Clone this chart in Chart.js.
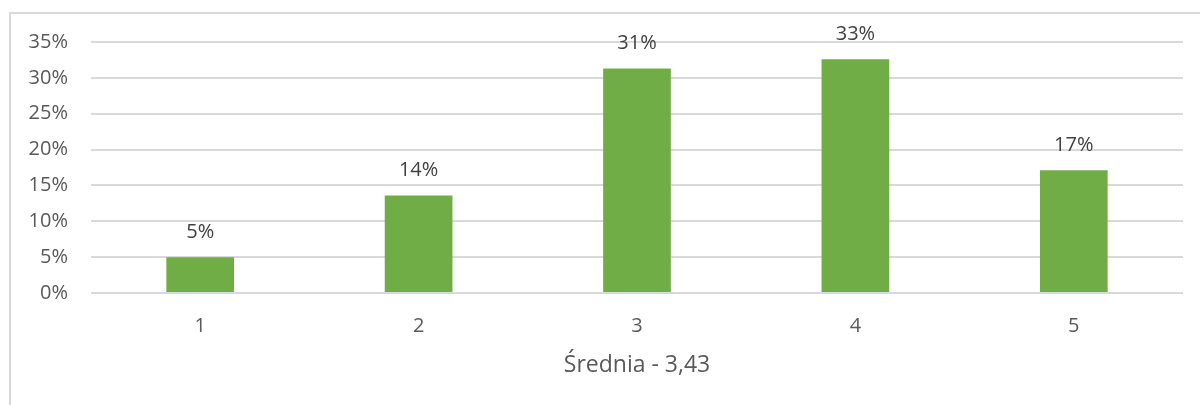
<!DOCTYPE html>
<html>
<head>
<meta charset="utf-8">
<script src="https://cdn.jsdelivr.net/npm/chart.js@4.4.0/dist/chart.umd.min.js"></script>
<style>
  html, body { margin: 0; padding: 0; background: #fff; }
  #wrap { position: relative; width: 1200px; height: 405px; overflow: hidden; }
  #frame { position: absolute; left: 9px; top: 12px; width: 1300px; height: 500px;
           border-left: 2px solid #d9d9d9; border-top: 2px solid #d9d9d9; box-sizing: border-box; }
  canvas { position: absolute; left: 0; top: 0; }
</style>
</head>
<body>
<div id="wrap">
  <div id="frame"></div>
  <canvas id="c" width="1200" height="405"></canvas>
</div>
<script>
const categories = ['1', '2', '3', '4', '5'];
const values = [5.0, 13.6, 31.3, 32.6, 17.1];
const valueLabels = ['5%', '14%', '31%', '33%', '17%'];
const axisTitle = 'Średnia - 3,43';
const yMax = 35;
const yStep = 5;

const FONT = "'Open Sans', 'Noto Sans', sans-serif";

const labelPlugin = {
  id: 'barLabels',
  afterDatasetsDraw(chart) {
    const ctx = chart.ctx;
    const meta = chart.getDatasetMeta(0);
    ctx.save();
    ctx.font = '20px ' + FONT;
    ctx.fillStyle = '#404040';
    ctx.textAlign = 'center';
    ctx.textBaseline = 'middle';
    meta.data.forEach((bar, i) => {
      ctx.fillText(valueLabels[i], bar.x, bar.y - 25);
    });
    ctx.restore();
  }
};

new Chart(document.getElementById('c'), {
  type: 'bar',
  data: {
    labels: categories,
    datasets: [{
      data: values,
      backgroundColor: '#70AD47',
      borderWidth: 0,
      barPercentage: 0.31,
      categoryPercentage: 1.0
    }]
  },
  options: {
    responsive: false,
    animation: false,
    devicePixelRatio: 1,
    layout: { padding: { left: 0, right: 17, top: 42, bottom: 0 } },
    plugins: { legend: { display: false }, tooltip: { enabled: false } },
    scales: {
      x: {
        grid: { display: false },
        border: { display: false },
        ticks: { color: '#595959', font: { family: FONT, size: 20 }, padding: 13 },
        title: {
          display: true,
          text: axisTitle,
          color: '#595959',
          font: { family: FONT, size: 23 },
          padding: { top: 0, bottom: 26 }
        },
        afterFit(s) { s.height = 112; }
      },
      y: {
        min: 0,
        max: yMax,
        ticks: {
          stepSize: yStep,
          color: '#595959',
          font: { family: FONT, size: 20 },
          padding: 23,
          callback: v => v + '%'
        },
        grid: { color: '#d9d9d9', lineWidth: 2, drawTicks: false },
        border: { display: false },
        afterFit(s) { s.width = 91; }
      }
    }
  },
  plugins: [labelPlugin]
});
</script>
</body>
</html>
